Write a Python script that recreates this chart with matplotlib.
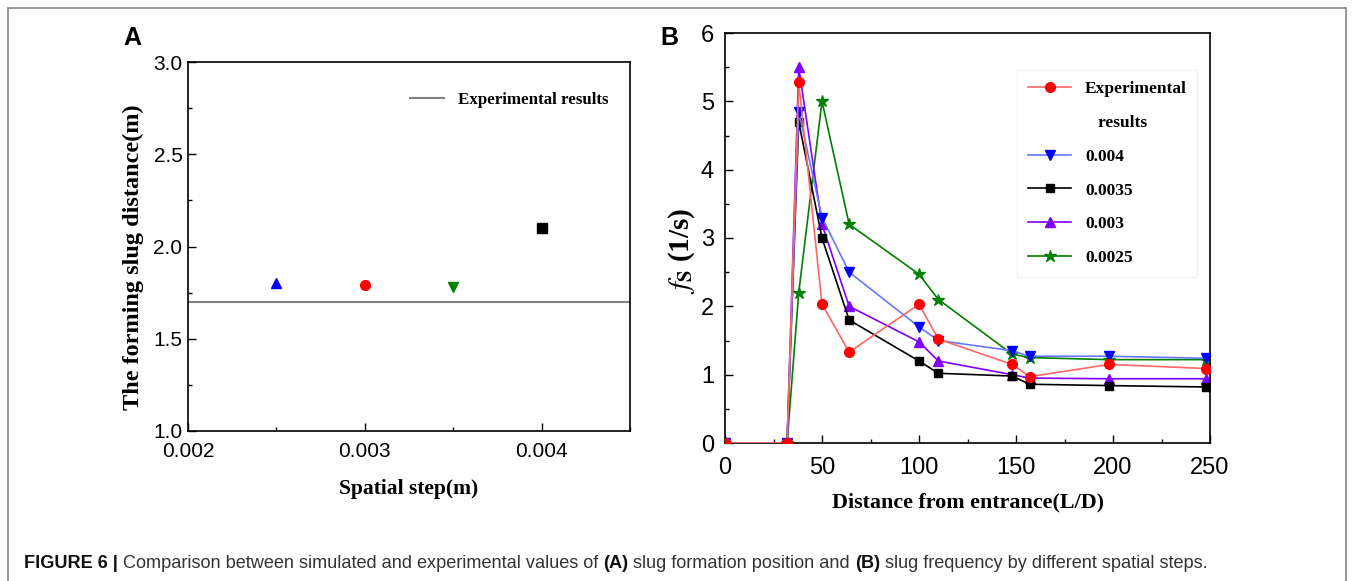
import matplotlib
matplotlib.use('Agg')
import matplotlib.pyplot as plt
from matplotlib.lines import Line2D
from matplotlib.patches import Rectangle
from matplotlib.ticker import MultipleLocator

# ---- data, panel A ----
steps = [0.0025, 0.003, 0.0035, 0.004]
slug_dist = [1.80, 1.79, 1.78, 2.10]
step_colors = ['#0000ff', '#ff0000', '#008000', '#000000']
step_markers = ['^', 'o', 'v', 's']
exp_dist = 1.70

# ---- data, panel B ----
dist = [0, 32, 38, 50, 64, 100, 110, 148, 157, 198, 248]
f_exp = [0, 0, 5.28, 2.03, 1.33, 2.03, 1.52, 1.15, 0.97, 1.15, 1.09]
f_0004 = [0, 0, 4.85, 3.30, 2.50, 1.70, 1.50, 1.35, 1.27, 1.27, 1.24]
f_00035 = [0, 0, 4.70, 3.00, 1.80, 1.20, 1.02, 0.98, 0.86, 0.84, 0.82]
f_0003 = [0, 0, 5.50, 3.20, 2.00, 1.48, 1.20, 1.00, 0.95, 0.94, 0.94]
f_00025 = [0, 0, 2.20, 5.00, 3.20, 2.47, 2.10, 1.30, 1.25, 1.22, 1.22]

W, H = 1354, 581
fig = plt.figure(figsize=(W / 100, H / 100), dpi=100)

tick_font = ['Liberation Sans Narrow', 'Liberation Sans', 'DejaVu Sans']
serif = ['Liberation Serif', 'DejaVu Serif']


def style_axes(ax, size, xpad, ypad):
    ax.tick_params(which='both', direction='in', top=False, right=False,
                   labelsize=size, width=1)
    ax.tick_params(which='major', length=6)
    ax.tick_params(which='minor', length=3)
    ax.tick_params(axis='x', pad=xpad)
    ax.tick_params(axis='y', pad=ypad)
    for lab in ax.get_xticklabels() + ax.get_yticklabels():
        lab.set_family(tick_font)
    for sp in ax.spines.values():
        sp.set_linewidth(1.2)


# ---- panel A ----
axA = fig.add_axes([188 / W, 1 - 431 / H, (630 - 188) / W, (431 - 62) / H])
axA.axhline(exp_dist, color='#808080', lw=1.5, label='Experimental results')
for x, y, c, m in zip(steps, slug_dist, step_colors, step_markers):
    axA.plot(x, y, linestyle='none', marker=m, color=c, ms=7)
axA.set_xlim(0.002, 0.0045)
axA.set_ylim(1.0, 3.0)
axA.set_xticks([0.002, 0.003, 0.004])
axA.set_xticklabels(['0.002', '0.003', '0.004'])
axA.xaxis.set_minor_locator(MultipleLocator(0.0005))
axA.set_yticks([1.0, 1.5, 2.0, 2.5, 3.0])
axA.set_yticklabels(['1.0', '1.5', '2.0', '2.5', '3.0'])
axA.yaxis.set_minor_locator(MultipleLocator(0.25))
style_axes(axA, 15, 8, 4)
axA.set_xlabel('Spatial step(m)', family=serif, fontweight='bold', fontsize=15.5, labelpad=13)
axA.set_ylabel('The forming slug distance(m)', family=serif, fontweight='bold', fontsize=17.5)
axA.yaxis.set_label_coords(-0.10, 0.47)
legA = axA.legend(loc='upper right', frameon=False, handlelength=2.0,
                  prop={'family': serif, 'weight': 'bold', 'size': 12.2},
                  bbox_to_anchor=(0.985, 0.96))

# ---- panel B ----
axB = fig.add_axes([725 / W, 1 - 443 / H, (1210 - 725) / W, (443 - 33) / H])
series = [
    (f_exp, 'Experimental', 'o', '#ff0000', '#ff6666', 7),
    (f_0004, '0.004', 'v', '#0000ff', '#6677ff', 7),
    (f_00035, '0.0035', 's', '#000000', '#000000', 6),
    (f_0003, '0.003', '^', '#8000ff', '#8000ff', 7),
    (f_00025, '0.0025', '*', '#007f00', '#007f00', 9),
]
handles = []
for i, (vals, lab, m, mc, lc, ms) in enumerate(series):
    axB.plot(dist, vals, color=lc, lw=1.2, marker=m, ms=ms, mfc=mc, mec=mc,
             zorder=5 - i if i else 6)
    h = Line2D([], [], color=lc, lw=1.2, marker=m, ms=ms, mfc=mc, mec=mc)
    handles.append((h, lab))
    if i == 0:
        handles.append((Line2D([], [], linestyle='none'), '   results'))
axB.set_xlim(0, 250)
axB.set_ylim(0, 6)
axB.xaxis.set_major_locator(MultipleLocator(50))
axB.xaxis.set_minor_locator(MultipleLocator(25))
axB.yaxis.set_major_locator(MultipleLocator(1))
axB.yaxis.set_minor_locator(MultipleLocator(0.5))
style_axes(axB, 17, 10, 8)
axB.set_xlabel('Distance from entrance(L/D)', family=serif, fontweight='bold', fontsize=15.8, labelpad=10)
axB.set_ylabel(r'$\mathit{f}_\mathbf{S}$ (1/s)', family=serif, fontweight='bold', fontsize=21,
               math_fontfamily='stix')
axB.yaxis.set_label_coords(-0.058, 0.47)
legB = axB.legend([h for h, _ in handles], [l for _, l in handles],
                  loc='upper left', bbox_to_anchor=(0.585, 0.93),
                  prop={'family': serif, 'weight': 'bold', 'size': 12.5},
                  handlelength=2.5, labelspacing=1.02, fancybox=False,
                  framealpha=1, edgecolor='#f2f2f2', borderpad=0.6)

# panel letters
fig.text(123 / W, 1 - 38 / H, 'A', fontsize=18, fontweight='bold',
         family='Liberation Sans', va='center')
fig.text(660 / W, 1 - 38 / H, 'B', fontsize=18, fontweight='bold',
         family='Liberation Sans', va='center')

# frame around the figure
fig.patches.append(Rectangle((8 / W, -0.05), (1346 - 8) / W, 1 - 8 / H + 0.05,
                             transform=fig.transFigure, fill=False,
                             edgecolor='#8c8c8c', lw=1.3))

# caption, written in pieces so some parts can be bold
caption = [
    ('FIGURE 6 | ', 'bold', '#111111'),
    ('Comparison between simulated and experimental values of ', 'normal', '#333333'),
    ('(A)', 'bold', '#111111'),
    (' slug formation position and ', 'normal', '#333333'),
    ('(B)', 'bold', '#111111'),
    (' slug frequency by different spatial steps.', 'normal', '#333333'),
]
renderer = fig.canvas.get_renderer()
x = 24 / W
for txt, wt, col in caption:
    t = fig.text(x, 1 - 563 / H, txt, fontsize=13.1, fontweight=wt, color=col,
                 family='Liberation Sans', va='center')
    bb = t.get_window_extent(renderer)
    x = bb.x1 / W

fig.savefig('out.png', dpi=100)
